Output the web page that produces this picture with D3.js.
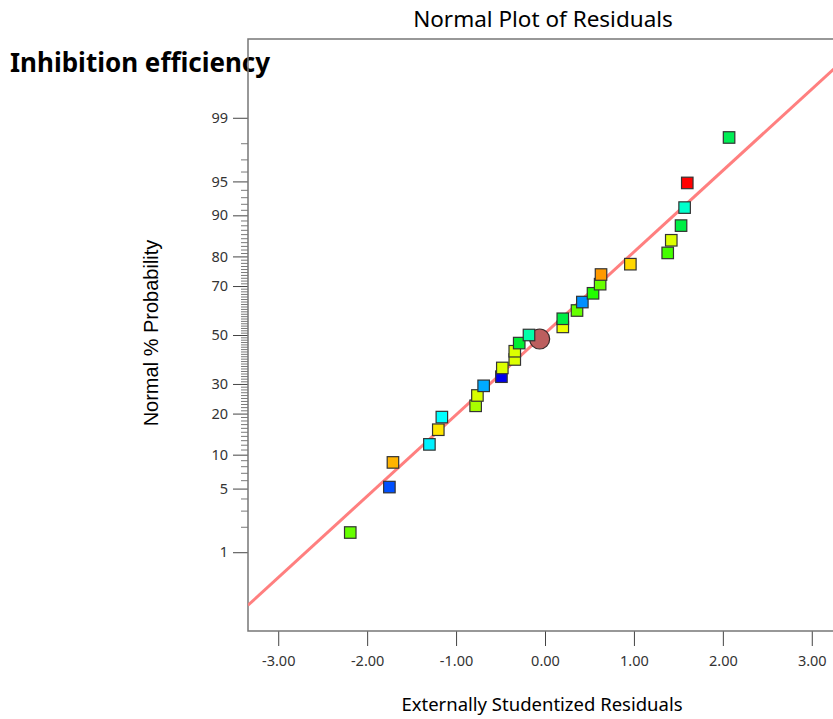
<!DOCTYPE html>
<html>
<head>
<meta charset="utf-8">
<script src="https://cdn.jsdelivr.net/npm/d3@7"></script>
<style>
  body { margin: 0; background: #fff; }
  svg { display: block; font-family: "Noto Sans", "Open Sans", sans-serif; }
</style>
</head>
<body>
<svg></svg>
<script>
// chart size
var width = 833;
var height = 719;

// residuals (x) and their normal % probability (y)
var residuals = [-2.19, -1.75, -1.71, -1.30, -1.20, -1.16, -0.78, -0.76, -0.69, -0.49,
                 -0.48, -0.34, -0.34, -0.29, -0.18, 0.20, 0.20, 0.36, 0.42, 0.54,
                 0.62, 0.63, 0.96, 1.38, 1.42, 1.53, 1.57, 1.60, 2.07];
var probs = [1.72, 5.17, 8.62, 12.07, 15.52, 18.97, 22.41, 25.86, 29.31, 32.76,
             36.21, 39.66, 43.10, 46.55, 50.00, 53.45, 56.90, 60.34, 63.79, 67.24,
             70.69, 74.14, 77.59, 81.03, 84.48, 87.93, 91.38, 94.83, 98.28];
var pointColors = ['#66ff00', '#0050ff', '#ffb400', '#00f0ff', '#ffe600', '#00ffff', '#a8ff00', '#d8ff00', '#00aaff', '#0000ee',
                   '#ddff00', '#ddff00', '#ddff00', '#00ee33', '#00ffaa', '#eeff00', '#00ee44', '#66ff00', '#0090ff', '#22ff00',
                   '#66ff00', '#ff9900', '#ffd700', '#44ff00', '#ddff00', '#00ee44', '#00ffcc', '#ff0000', '#00ee55'];

// highlighted (circle) point
var circleX = [-0.06];
var circleP = [48.3];

// fitted line end points
var lineX = [-3.34, 3.34];
var lineP = [0.19, 99.83];

// tick labels
var xTicks = [-3, -2, -1, 0, 1, 2, 3];
var yTicks = [1, 5, 10, 20, 30, 50, 70, 80, 90, 95, 99];
var yMinor = d3.range(1, 100).filter(d => yTicks.indexOf(d) < 0);

// inverse normal cdf (Acklam)
function probit(p) {
  var a = [-39.69683028665376, 220.9460984245205, -275.9285104469687, 138.3577518672690, -30.66479806614716, 2.506628277459239];
  var b = [-54.47609879822406, 161.5858368580409, -155.6989798598866, 66.80131188771972, -13.28068155288572];
  var c = [-0.007784894002430293, -0.3223964580411365, -2.400758277161838, -2.549732539343734, 4.374664141464968, 2.938163982698783];
  var d = [0.007784695709041462, 0.3224671290700398, 2.445134137142996, 3.754408661907416];
  var q, r;
  if (p < 0.02425) {
    q = Math.sqrt(-2 * Math.log(p));
    return (((((c[0]*q+c[1])*q+c[2])*q+c[3])*q+c[4])*q+c[5]) / ((((d[0]*q+d[1])*q+d[2])*q+d[3])*q+1);
  } else if (p > 1 - 0.02425) {
    q = Math.sqrt(-2 * Math.log(1 - p));
    return -(((((c[0]*q+c[1])*q+c[2])*q+c[3])*q+c[4])*q+c[5]) / ((((d[0]*q+d[1])*q+d[2])*q+d[3])*q+1);
  }
  q = p - 0.5; r = q * q;
  return (((((a[0]*r+a[1])*r+a[2])*r+a[3])*r+a[4])*r+a[5])*q / (((((b[0]*r+b[1])*r+b[2])*r+b[3])*r+b[4])*r+1);
}
var z = pct => probit(pct / 100);

var svg = d3.select('svg')
            .attr('width', width)
            .attr('height', height);

// plot frame
var frameL = 248, frameT = 39, frameB = 631, frameR = 842;

var x = d3.scaleLinear().domain([-3.34, 3.34]).range([frameL, frameR]);
var y = d3.scaleLinear().domain([-3.17, 3.17]).range([frameB, frameT]);

// titles
svg.append('text')
   .attr('x', 543).attr('y', 27)
   .attr('text-anchor', 'middle')
   .style('font-size', '22.5px')
   .text('Normal Plot of Residuals');

svg.append('text')
   .attr('x', 10).attr('y', 72)
   .style('font-size', '26px').style('font-weight', 'bold')
   .text('Inhibition efficiency');

// minor y ticks
svg.append('g')
   .attr('transform', 'translate(' + frameL + ',0)')
   .call(d3.axisLeft(y).tickValues(yMinor.map(z)).tickSize(7).tickFormat(''))
   .call(g => g.select('.domain').remove())
   .call(g => g.selectAll('line').attr('stroke', '#7a7a7a'));

// major y ticks
svg.append('g')
   .attr('transform', 'translate(' + frameL + ',0)')
   .call(d3.axisLeft(y).tickValues(yTicks.map(z)).tickSize(15).tickPadding(5)
           .tickFormat((d, i) => yTicks[i]))
   .call(g => g.select('.domain').remove())
   .call(g => g.selectAll('line').attr('stroke', '#444'))
   .call(g => g.selectAll('text').style('font-size', '14.5px').attr('fill', '#333')
               .style('font-family', '"Noto Sans", sans-serif'));

// x ticks
svg.append('g')
   .attr('transform', 'translate(0,' + frameB + ')')
   .call(d3.axisBottom(x).tickValues(xTicks).tickSize(15).tickPadding(10)
           .tickFormat(d => d.toFixed(2)))
   .call(g => g.select('.domain').remove())
   .call(g => g.selectAll('line').attr('stroke', '#444'))
   .call(g => g.selectAll('text').style('font-size', '14.5px').attr('fill', '#333')
               .style('font-family', '"Noto Sans", sans-serif'));

// frame lines (left, bottom, top)
svg.append('path')
   .attr('d', 'M' + frameR + ',' + frameT + 'H' + frameL + 'V' + frameB + 'H' + frameR)
   .attr('fill', 'none')
   .attr('stroke', '#777')
   .attr('stroke-width', 1.5);

// axis titles
svg.append('text')
   .attr('transform', 'translate(158,' + 333 + ') rotate(-90)')
   .attr('text-anchor', 'middle')
   .style('font-size', '20px')
   .style('font-family', '"Liberation Sans", Arial, sans-serif')
   .text('Normal % Probability');

svg.append('text')
   .attr('x', 542).attr('y', 711)
   .attr('text-anchor', 'middle')
   .style('font-size', '18.5px')
   .text('Externally Studentized Residuals');

// clip to plot area
svg.append('clipPath').attr('id', 'plotclip')
   .append('rect').attr('x', frameL).attr('y', frameT).attr('width', frameR - frameL).attr('height', frameB - frameT);

var plot = svg.append('g').attr('clip-path', 'url(#plotclip)');

// fitted line
plot.append('line')
    .attr('x1', x(lineX[0])).attr('y1', y(z(lineP[0])))
    .attr('x2', x(lineX[1])).attr('y2', y(z(lineP[1])))
    .attr('stroke', '#ff7f7f')
    .attr('stroke-width', 3);

// circle point (under the squares)
plot.selectAll('circle.hl')
    .data(circleX)
    .enter()
    .append('circle')
    .attr('class', 'hl')
    .attr('cx', d => x(d))
    .attr('cy', (d, i) => y(z(circleP[i])))
    .attr('r', 10)
    .attr('fill', '#bc5e5e')
    .attr('stroke', '#3a2a2a')
    .attr('stroke-width', 1.2);

// square points
var s = 11.5;
plot.selectAll('rect.pt')
    .data(residuals)
    .enter()
    .append('rect')
    .attr('class', 'pt')
    .attr('x', d => x(d) - s / 2)
    .attr('y', (d, i) => y(z(probs[i])) - s / 2)
    .attr('width', s).attr('height', s)
    .attr('fill', (d, i) => pointColors[i])
    .attr('stroke', '#333')
    .attr('stroke-width', 1.2);
</script>
</body>
</html>
